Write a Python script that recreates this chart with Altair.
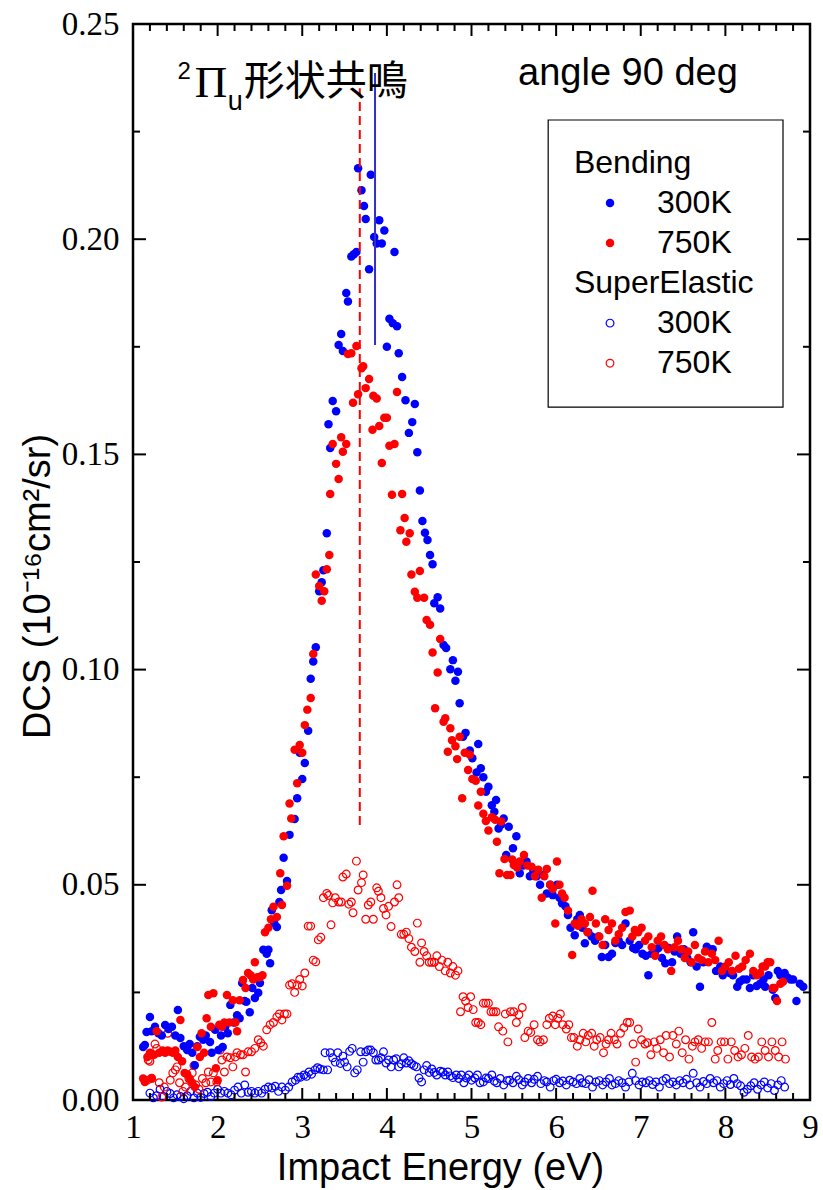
import altair as alt
import pandas as pd

# ---------------- data (Impact energy eV, DCS 1e-16 cm^2/sr) ----------------
BEND_300K = [(1.12,0.0123),(1.14,0.0128),(1.16,0.0158),(1.20,0.0193),(1.22,0.0160),(1.26,0.0170),(1.30,0.0155),(1.34,0.0150),(1.38,0.0174),(1.42,0.0165),(1.46,0.0170),(1.50,0.0150),(1.53,0.0209),(1.56,0.0144),(1.60,0.0125),(1.64,0.0116),(1.67,0.0130),(1.70,0.0110),(1.73,0.0081),(1.76,0.0125),(1.79,0.0147),(1.83,0.0140),(1.86,0.0150),(1.91,0.0135),(1.93,0.0110),(1.97,0.0163),(2.01,0.0116),(2.04,0.0150),(2.06,0.0123),(2.09,0.0170),(2.12,0.0155),(2.15,0.0221),(2.19,0.0180),(2.23,0.0197),(2.26,0.0190),(2.29,0.0272),(2.32,0.0230),(2.34,0.0228),(2.38,0.0204),(2.41,0.0260),(2.44,0.0237),(2.48,0.0249),(2.50,0.0272),(2.54,0.0349),(2.58,0.0340),(2.60,0.0349),(2.62,0.0318),(2.64,0.0441),(2.67,0.0410),(2.70,0.0402),(2.73,0.0460),(2.75,0.0488),(2.78,0.0563),(2.82,0.0509),(2.85,0.0616),(2.91,0.0653),(2.94,0.0701),(2.97,0.0807),(3.00,0.0746),(3.03,0.0783),(3.07,0.0858),(3.10,0.0979),(3.13,0.1019),(3.16,0.1052),(3.20,0.1182),(3.23,0.1203),(3.25,0.1231),(3.29,0.1317),(3.31,0.1570),(3.33,0.1515),(3.36,0.1624),(3.40,0.1600),(3.43,0.1754),(3.46,0.1780),(3.48,0.1740),(3.52,0.1875),(3.54,0.1855),(3.58,0.1960),(3.61,0.1965),(3.64,0.1970),(3.66,0.2165),(3.70,0.2114),(3.73,0.2077),(3.75,0.2047),(3.79,0.1930),(3.81,0.2150),(3.85,0.2005),(3.88,0.1990),(3.91,0.2044),(3.94,0.1990),(3.97,0.2020),(4.00,0.1750),(4.03,0.1815),(4.07,0.1805),(4.09,0.1970),(4.12,0.1798),(4.14,0.1735),(4.18,0.1680),(4.22,0.1626),(4.26,0.1550),(4.30,0.1575),(4.33,0.1617),(4.36,0.1505),(4.39,0.1416),(4.42,0.1345),(4.45,0.1318),(4.48,0.1301),(4.51,0.1266),(4.54,0.1245),(4.56,0.1154),(4.60,0.1168),(4.63,0.1142),(4.67,0.1057),(4.70,0.1050),(4.75,0.1001),(4.78,0.1022),(4.81,0.0974),(4.84,0.0995),(4.86,0.0922),(4.90,0.0844),(4.93,0.0853),(4.98,0.0812),(5.01,0.0794),(5.06,0.0761),(5.08,0.0827),(5.11,0.0771),(5.14,0.0750),(5.17,0.0716),(5.20,0.0728),(5.24,0.0685),(5.27,0.0670),(5.29,0.0697),(5.32,0.0631),(5.35,0.0640),(5.38,0.0654),(5.41,0.0569),(5.44,0.0635),(5.49,0.0585),(5.53,0.0613),(5.57,0.0527),(5.61,0.0545),(5.65,0.0554),(5.69,0.0520),(5.73,0.0534),(5.77,0.0520),(5.81,0.0500),(5.85,0.0523),(5.89,0.0480),(5.93,0.0500),(5.96,0.0476),(6.01,0.0500),(6.04,0.0470),(6.07,0.0457),(6.11,0.0450),(6.14,0.0430),(6.17,0.0400),(6.22,0.0383),(6.25,0.0420),(6.28,0.0430),(6.31,0.0400),(6.34,0.0364),(6.38,0.0390),(6.42,0.0380),(6.46,0.0370),(6.50,0.0380),(6.54,0.0332),(6.58,0.0360),(6.62,0.0332),(6.66,0.0340),(6.70,0.0365),(6.74,0.0370),(6.78,0.0360),(6.82,0.0410),(6.87,0.0370),(6.91,0.0353),(6.94,0.0350),(6.98,0.0360),(7.02,0.0340),(7.06,0.0335),(7.09,0.0290),(7.13,0.0340),(7.17,0.0345),(7.21,0.0353),(7.25,0.0330),(7.29,0.0318),(7.33,0.0353),(7.37,0.0320),(7.40,0.0345),(7.43,0.0380),(7.47,0.0340),(7.51,0.0350),(7.55,0.0330),(7.59,0.0320),(7.62,0.0390),(7.66,0.0310),(7.70,0.0263),(7.74,0.0320),(7.78,0.0356),(7.81,0.0350),(7.85,0.0350),(7.89,0.0300),(7.94,0.0310),(7.97,0.0290),(8.01,0.0300),(8.05,0.0295),(8.09,0.0290),(8.14,0.0263),(8.17,0.0275),(8.21,0.0280),(8.25,0.0280),(8.29,0.0260),(8.33,0.0290),(8.37,0.0265),(8.41,0.0270),(8.45,0.0280),(8.47,0.0263),(8.51,0.0290),(8.56,0.0256),(8.59,0.0237),(8.62,0.0300),(8.65,0.0290),(8.70,0.0295),(8.73,0.0285),(8.77,0.0280),(8.80,0.0280),(8.84,0.0230),(8.88,0.0270),(8.92,0.0263)]

BEND_750K = [(1.12,0.0050),(1.14,0.0042),(1.17,0.0100),(1.20,0.0110),(1.22,0.0051),(1.25,0.0105),(1.28,0.0160),(1.31,0.0110),(1.35,0.0115),(1.38,0.0110),(1.41,0.0115),(1.44,0.0112),(1.47,0.0110),(1.50,0.0115),(1.53,0.0100),(1.56,0.0186),(1.58,0.0090),(1.61,0.0063),(1.64,0.0060),(1.67,0.0050),(1.70,0.0040),(1.73,0.0030),(1.76,0.0123),(1.79,0.0100),(1.81,0.0155),(1.84,0.0110),(1.87,0.0190),(1.89,0.0244),(1.92,0.0170),(1.95,0.0248),(1.98,0.0074),(2.00,0.0046),(2.02,0.0175),(2.05,0.0170),(2.08,0.0180),(2.11,0.0244),(2.14,0.0180),(2.18,0.0232),(2.21,0.0180),(2.23,0.0160),(2.26,0.0232),(2.30,0.0279),(2.33,0.0260),(2.36,0.0295),(2.39,0.0290),(2.42,0.0280),(2.44,0.0320),(2.47,0.0285),(2.50,0.0285),(2.53,0.0290),(2.56,0.0390),(2.60,0.0400),(2.63,0.0420),(2.66,0.0449),(2.70,0.0425),(2.74,0.0527),(2.76,0.0453),(2.78,0.0613),(2.82,0.0498),(2.85,0.0689),(2.87,0.0654),(2.91,0.0814),(2.94,0.0736),(2.97,0.0825),(3.00,0.0807),(3.03,0.0871),(3.06,0.0907),(3.10,0.0934),(3.13,0.1036),(3.16,0.1221),(3.20,0.1194),(3.23,0.1160),(3.26,0.1182),(3.29,0.1233),(3.32,0.1266),(3.33,0.1408),(3.36,0.1524),(3.40,0.1478),(3.43,0.1443),(3.46,0.1540),(3.48,0.1506),(3.52,0.1524),(3.54,0.1733),(3.58,0.1735),(3.60,0.1620),(3.64,0.1752),(3.66,0.1640),(3.70,0.1700),(3.72,0.1705),(3.75,0.1654),(3.79,0.1675),(3.83,0.1557),(3.84,0.1636),(3.88,0.1630),(3.91,0.1566),(3.94,0.1480),(3.97,0.1585),(4.00,0.1585),(4.03,0.1520),(4.06,0.1406),(4.09,0.1524),(4.12,0.1645),(4.16,0.1324),(4.18,0.1408),(4.21,0.1352),(4.23,0.1297),(4.27,0.1317),(4.29,0.1221),(4.33,0.1181),(4.36,0.1167),(4.39,0.1229),(4.44,0.1167),(4.47,0.1115),(4.51,0.1104),(4.54,0.1040),(4.57,0.0910),(4.60,0.0993),(4.63,0.1071),(4.67,0.0879),(4.69,0.0887),(4.72,0.0809),(4.75,0.0864),(4.77,0.0836),(4.81,0.0822),(4.83,0.0792),(4.86,0.0844),(4.89,0.0701),(4.92,0.0807),(4.96,0.0767),(4.98,0.0802),(5.01,0.0746),(5.05,0.0742),(5.08,0.0684),(5.11,0.0716),(5.14,0.0665),(5.17,0.0648),(5.20,0.0626),(5.24,0.0657),(5.28,0.0651),(5.30,0.0600),(5.33,0.0527),(5.35,0.0647),(5.39,0.0560),(5.42,0.0523),(5.46,0.0523),(5.48,0.0559),(5.50,0.0546),(5.54,0.0540),(5.57,0.0554),(5.62,0.0569),(5.66,0.0545),(5.71,0.0542),(5.75,0.0520),(5.79,0.0535),(5.83,0.0470),(5.86,0.0520),(5.89,0.0537),(5.93,0.0500),(5.96,0.0490),(5.99,0.0410),(6.01,0.0554),(6.04,0.0500),(6.07,0.0480),(6.10,0.0470),(6.14,0.0440),(6.19,0.0337),(6.22,0.0410),(6.26,0.0405),(6.30,0.0420),(6.34,0.0410),(6.37,0.0390),(6.40,0.0425),(6.43,0.0486),(6.47,0.0410),(6.51,0.0380),(6.55,0.0360),(6.58,0.0420),(6.62,0.0395),(6.66,0.0410),(6.70,0.0370),(6.74,0.0385),(6.78,0.0400),(6.82,0.0437),(6.87,0.0440),(6.90,0.0380),(6.93,0.0395),(6.97,0.0390),(7.01,0.0400),(7.05,0.0370),(7.09,0.0380),(7.13,0.0355),(7.17,0.0335),(7.20,0.0370),(7.24,0.0380),(7.28,0.0360),(7.32,0.0350),(7.36,0.0300),(7.40,0.0355),(7.44,0.0370),(7.48,0.0350),(7.52,0.0330),(7.56,0.0345),(7.60,0.0320),(7.64,0.0360),(7.68,0.0330),(7.72,0.0325),(7.76,0.0345),(7.80,0.0320),(7.84,0.0340),(7.88,0.0325),(7.92,0.0370),(7.96,0.0300),(8.00,0.0310),(8.04,0.0320),(8.08,0.0300),(8.12,0.0335),(8.16,0.0305),(8.20,0.0310),(8.24,0.0325),(8.29,0.0340),(8.33,0.0300),(8.37,0.0290),(8.41,0.0295),(8.44,0.0310),(8.47,0.0310),(8.50,0.0320),(8.53,0.0320),(8.56,0.0260),(8.58,0.0260),(8.61,0.0230),(8.65,0.0270),(8.68,0.0275)]

SUPER_300K = [(1.20,0.0016),(1.24,0.0005),(1.28,0.0010),(1.32,0.0025),(1.36,0.0008),(1.40,0.0020),(1.44,0.0015),(1.48,0.0005),(1.52,0.0012),(1.56,0.0008),(1.60,0.0003),(1.64,0.0010),(1.68,0.0020),(1.72,0.0005),(1.76,0.0016),(1.80,0.0006),(1.84,0.0015),(1.88,0.0018),(1.92,0.0008),(1.96,0.0016),(2.00,0.0025),(2.04,0.0016),(2.08,0.0020),(2.12,0.0016),(2.16,0.0012),(2.20,0.0023),(2.24,0.0030),(2.28,0.0016),(2.32,0.0035),(2.36,0.0018),(2.40,0.0020),(2.44,0.0016),(2.48,0.0020),(2.52,0.0016),(2.56,0.0025),(2.60,0.0030),(2.64,0.0028),(2.68,0.0032),(2.72,0.0020),(2.76,0.0030),(2.80,0.0023),(2.84,0.0030),(2.88,0.0042),(2.92,0.0046),(2.95,0.0053),(2.98,0.0053),(3.02,0.0058),(3.05,0.0055),(3.08,0.0065),(3.11,0.0060),(3.15,0.0070),(3.18,0.0075),(3.21,0.0072),(3.25,0.0070),(3.27,0.0110),(3.30,0.0070),(3.33,0.0110),(3.36,0.0098),(3.39,0.0088),(3.42,0.0110),(3.45,0.0085),(3.48,0.0102),(3.50,0.0088),(3.53,0.0077),(3.56,0.0113),(3.59,0.0120),(3.62,0.0063),(3.65,0.0070),(3.69,0.0112),(3.72,0.0088),(3.75,0.0112),(3.78,0.0116),(3.81,0.0116),(3.84,0.0110),(3.87,0.0093),(3.90,0.0093),(3.93,0.0098),(3.96,0.0112),(3.99,0.0086),(4.02,0.0093),(4.05,0.0077),(4.08,0.0093),(4.11,0.0096),(4.14,0.0077),(4.17,0.0084),(4.20,0.0098),(4.23,0.0086),(4.26,0.0091),(4.29,0.0084),(4.32,0.0080),(4.35,0.0077),(4.38,0.0051),(4.41,0.0042),(4.44,0.0070),(4.47,0.0080),(4.50,0.0064),(4.53,0.0072),(4.56,0.0064),(4.59,0.0058),(4.63,0.0067),(4.66,0.0065),(4.69,0.0058),(4.72,0.0065),(4.75,0.0056),(4.78,0.0052),(4.82,0.0058),(4.85,0.0050),(4.88,0.0058),(4.91,0.0040),(4.94,0.0051),(4.97,0.0058),(5.00,0.0046),(5.04,0.0051),(5.07,0.0058),(5.10,0.0040),(5.14,0.0042),(5.17,0.0051),(5.20,0.0050),(5.24,0.0058),(5.27,0.0044),(5.30,0.0040),(5.34,0.0050),(5.38,0.0035),(5.42,0.0045),(5.45,0.0046),(5.49,0.0040),(5.53,0.0055),(5.56,0.0047),(5.60,0.0035),(5.63,0.0042),(5.67,0.0050),(5.71,0.0040),(5.74,0.0048),(5.78,0.0055),(5.82,0.0038),(5.86,0.0045),(5.89,0.0042),(5.93,0.0030),(5.97,0.0045),(6.00,0.0048),(6.04,0.0040),(6.08,0.0044),(6.12,0.0035),(6.16,0.0046),(6.20,0.0042),(6.24,0.0038),(6.28,0.0050),(6.31,0.0040),(6.35,0.0038),(6.39,0.0047),(6.43,0.0030),(6.47,0.0042),(6.51,0.0045),(6.55,0.0035),(6.59,0.0042),(6.63,0.0050),(6.66,0.0035),(6.70,0.0038),(6.74,0.0045),(6.78,0.0040),(6.82,0.0030),(6.86,0.0042),(6.90,0.0062),(6.94,0.0045),(6.98,0.0035),(7.02,0.0042),(7.06,0.0040),(7.10,0.0045),(7.14,0.0036),(7.18,0.0042),(7.22,0.0030),(7.26,0.0045),(7.30,0.0050),(7.34,0.0038),(7.38,0.0042),(7.42,0.0035),(7.46,0.0045),(7.50,0.0040),(7.54,0.0048),(7.58,0.0035),(7.62,0.0062),(7.66,0.0040),(7.70,0.0030),(7.74,0.0043),(7.78,0.0038),(7.82,0.0050),(7.86,0.0040),(7.90,0.0045),(7.94,0.0030),(7.98,0.0038),(8.02,0.0045),(8.06,0.0036),(8.10,0.0050),(8.14,0.0038),(8.18,0.0033),(8.22,0.0018),(8.26,0.0025),(8.30,0.0033),(8.34,0.0040),(8.38,0.0025),(8.42,0.0035),(8.46,0.0042),(8.50,0.0028),(8.54,0.0038),(8.58,0.0022),(8.62,0.0035),(8.66,0.0045),(8.70,0.0030)]

SUPER_750K = [(1.17,0.0046),(1.18,0.0093),(1.20,0.0090),(1.22,0.0050),(1.26,0.0130),(1.28,0.0120),(1.31,0.0040),(1.34,0.0007),(1.37,0.0030),(1.41,0.0155),(1.44,0.0046),(1.47,0.0063),(1.50,0.0070),(1.52,0.0077),(1.55,0.0040),(1.59,0.0020),(1.62,0.0030),(1.66,0.0050),(1.70,0.0063),(1.72,0.0080),(1.74,0.0035),(1.78,0.0025),(1.82,0.0050),(1.86,0.0040),(1.89,0.0065),(1.92,0.0042),(1.95,0.0063),(1.99,0.0042),(2.03,0.0116),(2.05,0.0093),(2.08,0.0065),(2.11,0.0100),(2.15,0.0098),(2.18,0.0077),(2.21,0.0100),(2.23,0.0110),(2.27,0.0105),(2.30,0.0105),(2.33,0.0065),(2.36,0.0112),(2.40,0.0112),(2.44,0.0120),(2.48,0.0140),(2.51,0.0133),(2.54,0.0125),(2.58,0.0163),(2.62,0.0175),(2.66,0.0180),(2.70,0.0193),(2.73,0.0200),(2.76,0.0186),(2.79,0.0200),(2.82,0.0200),(2.85,0.0267),(2.88,0.0270),(2.91,0.0250),(2.94,0.0267),(2.97,0.0280),(3.00,0.0265),(3.03,0.0295),(3.07,0.0404),(3.10,0.0404),(3.13,0.0325),(3.16,0.0321),(3.19,0.0372),(3.22,0.0378),(3.25,0.0470),(3.29,0.0480),(3.31,0.0475),(3.34,0.0407),(3.36,0.0458),(3.39,0.0470),(3.43,0.0460),(3.46,0.0460),(3.48,0.0518),(3.52,0.0525),(3.55,0.0455),(3.58,0.0460),(3.60,0.0435),(3.64,0.0555),(3.66,0.0488),(3.70,0.0505),(3.72,0.0523),(3.75,0.0420),(3.78,0.0453),(3.81,0.0460),(3.84,0.0420),(3.88,0.0493),(3.90,0.0485),(3.93,0.0470),(3.96,0.0445),(3.99,0.0430),(4.02,0.0450),(4.05,0.0403),(4.09,0.0460),(4.12,0.0500),(4.14,0.0470),(4.17,0.0385),(4.20,0.0385),(4.23,0.0390),(4.26,0.0375),(4.29,0.0355),(4.33,0.0345),(4.36,0.0411),(4.39,0.0320),(4.41,0.0365),(4.44,0.0345),(4.47,0.0335),(4.50,0.0320),(4.53,0.0320),(4.56,0.0320),(4.59,0.0335),(4.62,0.0310),(4.65,0.0325),(4.69,0.0300),(4.72,0.0320),(4.75,0.0295),(4.78,0.0310),(4.81,0.0290),(4.84,0.0300),(4.87,0.0205),(4.90,0.0240),(4.93,0.0230),(4.96,0.0215),(4.99,0.0240),(5.02,0.0210),(5.05,0.0180),(5.08,0.0180),(5.11,0.0175),(5.14,0.0225),(5.17,0.0225),(5.20,0.0225),(5.23,0.0205),(5.26,0.0205),(5.29,0.0205),(5.32,0.0170),(5.37,0.0160),(5.40,0.0200),(5.43,0.0135),(5.46,0.0205),(5.50,0.0205),(5.53,0.0180),(5.56,0.0198),(5.60,0.0215),(5.63,0.0145),(5.67,0.0160),(5.70,0.0157),(5.74,0.0175),(5.78,0.0140),(5.81,0.0135),(5.85,0.0140),(5.89,0.0175),(5.92,0.0190),(5.96,0.0195),(5.99,0.0175),(6.02,0.0190),(6.05,0.0200),(6.08,0.0175),(6.12,0.0165),(6.15,0.0175),(6.18,0.0145),(6.21,0.0145),(6.25,0.0125),(6.28,0.0140),(6.32,0.0155),(6.35,0.0135),(6.38,0.0150),(6.42,0.0155),(6.45,0.0125),(6.48,0.0140),(6.52,0.0145),(6.56,0.0110),(6.59,0.0130),(6.62,0.0140),(6.65,0.0155),(6.69,0.0140),(6.72,0.0130),(6.76,0.0155),(6.80,0.0168),(6.84,0.0180),(6.87,0.0180),(6.91,0.0130),(6.94,0.0088),(6.97,0.0165),(7.01,0.0140),(7.05,0.0130),(7.08,0.0133),(7.12,0.0105),(7.16,0.0135),(7.19,0.0120),(7.23,0.0140),(7.27,0.0110),(7.30,0.0150),(7.34,0.0100),(7.38,0.0150),(7.42,0.0130),(7.45,0.0160),(7.49,0.0110),(7.53,0.0140),(7.57,0.0095),(7.61,0.0125),(7.64,0.0135),(7.68,0.0140),(7.72,0.0120),(7.76,0.0135),(7.80,0.0135),(7.84,0.0180),(7.88,0.0095),(7.91,0.0115),(7.95,0.0135),(7.99,0.0135),(8.03,0.0095),(8.07,0.0135),(8.11,0.0115),(8.15,0.0100),(8.19,0.0105),(8.23,0.0120),(8.27,0.0150),(8.31,0.0100),(8.35,0.0095),(8.39,0.0100),(8.43,0.0135),(8.47,0.0115),(8.51,0.0100),(8.55,0.0135),(8.59,0.0115),(8.63,0.0100),(8.67,0.0135),(8.71,0.0095)]

# resonance markers: (energy, DCS bottom, DCS top)
MARK_750K = [(3.68, 0.0639, 0.2351)]
MARK_300K = [(3.86, 0.1754, 0.2386)]

X_TICKS = [1, 2, 3, 4, 5, 6, 7, 8, 9]
X_MINOR = [1.2, 1.4, 1.6, 1.8, 2.2, 2.4, 2.6, 2.8, 3.2, 3.4, 3.6, 3.8, 4.2, 4.4, 4.6, 4.8,
           5.2, 5.4, 5.6, 5.8, 6.2, 6.4, 6.6, 6.8, 7.2, 7.4, 7.6, 7.8, 8.2, 8.4, 8.6, 8.8]
Y_TICKS = [0.0, 0.05, 0.10, 0.15, 0.20, 0.25]
Y_MINOR = [0.025, 0.075, 0.125, 0.175, 0.225]

BLUE = "#0000FF"
RED = "#FF0000"
SANS = "Liberation Sans"
SERIF = "Liberation Serif"
CJK = "Noto Sans CJK JP"

W, H = 677, 1076
xs = alt.Scale(domain=[1, 9], nice=False, zero=False)
ys = alt.Scale(domain=[0, 0.25], nice=False, zero=False)

X_AXIS = alt.Axis(
    values=X_TICKS, format="d", ticks=False, tickSize=0, domain=False, grid=False,
    labelFont=SERIF, labelFontSize=33, labelColor="black", labelPadding=11,
    labelFlush=False, labelOverlap=False,
    title="Impact Energy (eV)", titleFont=SANS, titleFontSize=38,
    titleFontWeight="normal", titleColor="black", titleX=307, titleY=79,
    titleAlign="center", titleBaseline="alphabetic")
Y_AXIS = alt.Axis(
    values=Y_TICKS, format=".2f", ticks=False, tickSize=0, domain=False, grid=False,
    labelFont=SERIF, labelFontSize=33, labelColor="black", labelPadding=14,
    labelFlush=False, labelOverlap=False,
    title="DCS (10⁻¹⁶cm²/sr)", titleFont=SANS, titleFontSize=38,
    titleFontWeight="normal", titleColor="black", titleX=-84, titleY=562,
    titleAngle=270, titleAlign="center", titleBaseline="alphabetic")


def frame(pairs):
    return pd.DataFrame(pairs, columns=["E", "DCS"])


def xenc(field="E"):
    return alt.X(f"{field}:Q", scale=xs, axis=X_AXIS)


def yenc(field="DCS"):
    return alt.Y(f"{field}:Q", scale=ys, axis=Y_AXIS)


FILLED = 72
OPEN = 60

open_300 = alt.Chart(frame(SUPER_300K)).mark_point(
    shape="circle", filled=False, size=OPEN, strokeWidth=1.2, color=BLUE, opacity=1
).encode(x=xenc(), y=yenc())
open_750 = alt.Chart(frame(SUPER_750K)).mark_point(
    shape="circle", filled=False, size=OPEN, strokeWidth=1.2, color=RED, opacity=1
).encode(x=xenc(), y=yenc())
fill_300 = alt.Chart(frame(BEND_300K)).mark_circle(size=FILLED, color=BLUE, opacity=1).encode(
    x=xenc(), y=yenc())
fill_750 = alt.Chart(frame(BEND_750K)).mark_circle(size=FILLED, color=RED, opacity=1).encode(
    x=xenc(), y=yenc())

m750 = pd.DataFrame(MARK_750K, columns=["E", "lo", "hi"])
m300 = pd.DataFrame(MARK_300K, columns=["E", "lo", "hi"])
line_750 = alt.Chart(m750).mark_rule(color=RED, strokeWidth=2, strokeDash=[9, 5]).encode(
    x=xenc(), y=yenc("lo"), y2="hi:Q")
line_300 = alt.Chart(m300).mark_rule(color="#3030C8", strokeWidth=2).encode(
    x=xenc(), y=yenc("lo"), y2="hi:Q")

# inward ticks on all four sides
tk = []
for vals, L in ((X_TICKS, 12), (X_MINOR, 7)):
    d = pd.DataFrame({"v": vals})
    tk.append(alt.Chart(d).mark_rule(color="black", strokeWidth=2).encode(
        x=xenc("v"), y=alt.value(H), y2=alt.value(H - L)))
    tk.append(alt.Chart(d).mark_rule(color="black", strokeWidth=2).encode(
        x=xenc("v"), y=alt.value(0), y2=alt.value(L)))
for vals, L in ((Y_TICKS, 13), (Y_MINOR, 7)):
    d = pd.DataFrame({"v": vals})
    tk.append(alt.Chart(d).mark_rule(color="black", strokeWidth=2).encode(
        y=yenc("v"), x=alt.value(0), x2=alt.value(L)))
    tk.append(alt.Chart(d).mark_rule(color="black", strokeWidth=2).encode(
        y=yenc("v"), x=alt.value(W), x2=alt.value(W - L)))

# annotations (data coordinates)
angle_txt = alt.Chart(pd.DataFrame([{"E": 5.55, "DCS": 0.2358, "t": "angle 90 deg"}])).mark_text(
    font=SANS, fontSize=38, align="left", baseline="alphabetic", color="black"
).encode(x=xenc(), y=yenc(), text="t:N")

sup2 = alt.Chart(pd.DataFrame([{"E": 1.525, "DCS": 0.2372, "t": "2"}])).mark_text(
    font=SANS, fontSize=24, align="left", baseline="alphabetic", color="black"
).encode(x=xenc(), y=yenc(), text="t:N")
pi_t = alt.Chart(pd.DataFrame([{"E": 1.73, "DCS": 0.2330, "t": "Π"}])).mark_text(
    font=SERIF, fontSize=45, align="left", baseline="alphabetic", color="black"
).encode(x=xenc(), y=yenc(), text="t:N")
sub_u = alt.Chart(pd.DataFrame([{"E": 2.12, "DCS": 0.2300, "t": "u"}])).mark_text(
    font=SANS, fontSize=27, align="left", baseline="alphabetic", color="black"
).encode(x=xenc(), y=yenc(), text="t:N")
cjk = alt.Chart(pd.DataFrame([{"E": 2.31, "DCS": 0.2335, "t": "形状共鳴"}])).mark_text(
    font=CJK, fontSize=41, align="left", baseline="alphabetic", color="black"
).encode(x=xenc(), y=yenc(), text="t:N")

# legend box
LEG_BOX = [(5.906, 8.681, 0.1610, 0.2277)]
box = alt.Chart(pd.DataFrame(LEG_BOX, columns=["x1", "x2", "y1", "y2"])).mark_rect(
    fill="white", stroke="black", strokeWidth=1.2
).encode(x=xenc("x1"), x2="x2:Q", y=yenc("y1"), y2="y2:Q")

LEG_TEXT = [(6.211, 0.2154, "Bending"), (7.192, 0.2061, "300K"), (7.192, 0.1968, "750K"),
            (6.211, 0.1875, "SuperElastic"), (7.192, 0.1782, "300K"), (7.192, 0.1689, "750K")]
leg_txt = alt.Chart(pd.DataFrame(LEG_TEXT, columns=["E", "DCS", "t"])).mark_text(
    font=SANS, fontSize=32, align="left", baseline="alphabetic", color="black"
).encode(x=xenc(), y=yenc(), text="t:N")

leg_f300 = alt.Chart(pd.DataFrame([(6.637, 0.2084)], columns=["E", "DCS"])).mark_circle(
    size=FILLED, color=BLUE, opacity=1).encode(x=xenc(), y=yenc())
leg_f750 = alt.Chart(pd.DataFrame([(6.637, 0.1991)], columns=["E", "DCS"])).mark_circle(
    size=FILLED, color=RED, opacity=1).encode(x=xenc(), y=yenc())
leg_o300 = alt.Chart(pd.DataFrame([(6.637, 0.1805)], columns=["E", "DCS"])).mark_point(
    shape="circle", filled=False, size=OPEN, strokeWidth=1.2, color=BLUE, opacity=1
).encode(x=xenc(), y=yenc())
leg_o750 = alt.Chart(pd.DataFrame([(6.637, 0.1712)], columns=["E", "DCS"])).mark_point(
    shape="circle", filled=False, size=OPEN, strokeWidth=1.2, color=RED, opacity=1
).encode(x=xenc(), y=yenc())

chart = alt.layer(
    open_300, open_750, fill_300, fill_750, line_750, line_300,
    *tk, angle_txt, sup2, pi_t, sub_u, cjk,
    box, leg_txt, leg_f300, leg_f750, leg_o300, leg_o750,
).properties(
    width=W, height=H,
    autosize=alt.AutoSizeParams(type="none"),
    padding={"left": 133, "top": 24, "right": 13, "bottom": 90},
    background="white",
).configure_view(stroke="black", strokeWidth=2.5)

chart.save("out.html", embed_options={"renderer": "svg", "actions": False})
